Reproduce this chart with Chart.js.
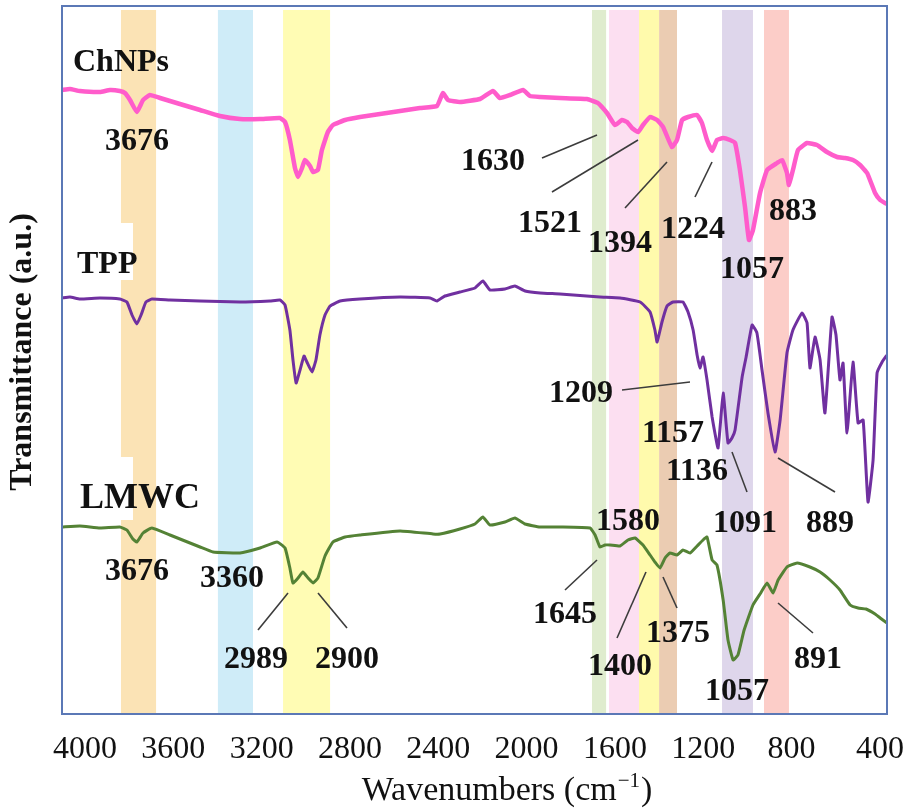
<!DOCTYPE html>
<html>
<head>
<meta charset="utf-8">
<script src="https://cdn.jsdelivr.net/npm/chart.js@4.4.0/dist/chart.umd.min.js"></script>
<style>
  body { margin: 0; background: #fff; }
  canvas { display: block; }
</style>
</head>
<body>
<canvas id="ftirChart" width="905" height="809"></canvas>
<script>
// ticks on the wavenumber axis
const xTicks = [4000, 3600, 3200, 2800, 2400, 2000, 1600, 1200, 800, 400];

// spectra (wavenumber / transmittance a.u., traces already offset)
const chnpsWn = [4104,4068,4023,3932,3887,3842,3819,3796,3765,3737,3706,3660,3570,3479,3389,3298,3207,3117,3094,3072,3049,3035,3017,3004,2981,2967,2945,2927,2900,2877,2822,2755,2664,2573,2483,2406,2379,2356,2302,2211,2152,2121,2075,2016,1985,1939,1849,1727,1677,1636,1600,1568,1545,1523,1495,1473,1441,1409,1382,1342,1319,1296,1269,1228,1206,1183,1160,1138,1110,1079,1056,1034,1011,993,975,943,911,866,843,821,812,794,771,730,685,640,594,558,522,490,458,422,399,377,368];
const chnpsT = [624,625,623,622,624,623,621,614,602,614,619,616,610,604,598,595,595,596,592,574,546,537,546,554,548,542,544,564,582,589,594,597,600,603,606,608,621,614,612,615,623,616,619,624,618,617,616,615,611,601,589,594,592,586,582,589,597,594,587,567,574,594,597,599,591,574,563,574,576,574,571,544,507,474,484,521,544,551,554,541,529,544,564,571,569,562,557,556,554,549,541,521,514,511,510];

const tppWn = [4104,4068,4023,3932,3842,3810,3787,3765,3746,3724,3697,3615,3479,3298,3162,3117,3094,3072,3058,3044,3026,3008,2995,2972,2954,2936,2913,2890,2845,2755,2573,2437,2406,2370,2302,2234,2198,2166,2098,2053,2007,1939,1849,1668,1577,1486,1441,1419,1409,1387,1364,1337,1292,1269,1246,1228,1215,1201,1183,1160,1133,1110,1088,1070,1056,1024,1006,979,957,934,907,875,852,821,794,753,730,717,694,671,649,617,599,581,567,549,522,499,476,454,431,413,390,368];
const tppT = [416,417,415,416,415,412,399,390,399,412,415,414,413,412,413,414,409,384,354,331,344,358,352,342,354,379,399,408,413,415,417,416,413,418,422,426,433,424,425,428,423,421,420,417,416,412,402,384,372,392,408,412,412,402,384,359,346,357,334,297,266,321,271,276,284,337,357,389,381,344,301,262,294,361,384,401,391,346,377,354,301,397,379,334,351,281,352,291,294,212,254,341,352,359];

const lmwcWn = [4104,4023,3932,3842,3810,3783,3765,3737,3697,3615,3479,3420,3298,3207,3130,3094,3072,3058,3035,3013,2990,2967,2945,2913,2877,2822,2755,2573,2424,2392,2302,2234,2198,2166,2098,2053,2007,1939,1849,1713,1690,1668,1645,1622,1577,1541,1509,1473,1441,1419,1396,1373,1351,1319,1292,1260,1228,1201,1183,1160,1138,1110,1088,1065,1043,1015,975,943,911,884,861,821,775,717,671,626,581,535,499,463,422,399,368];
const lmwcT = [187,188,186,187,184,175,172,181,186,179,167,162,161,166,172,166,146,131,136,142,136,131,136,158,172,177,179,183,180,180,185,190,197,189,192,196,190,187,187,186,179,167,169,169,168,174,176,169,159,152,146,156,161,159,164,161,168,174,177,154,149,114,74,54,59,84,109,120,131,121,134,147,151,147,142,134,124,109,106,105,100,96,91];

// shaded bands (cm-1)
const bandFrom = [3837, 3398, 3103, 1704, 1627, 1491, 1400, 1115, 925];
const bandTo = [3678, 3239, 2890, 1640, 1491, 1400, 1319, 975, 812];
const bandColors = ["#fbe3b5", "#cfecf8", "#fffcb4", "#dfecce", "#fcdff1", "#fffaac", "#ebccb2", "#ded6eb", "#fccdc8"];

const serif = "'Liberation Serif', 'DejaVu Serif', serif";

// peak labels: text, centre x, baseline y (canvas pixels)
const peakLabels = [
  ["3676", 137, 150], ["1630", 493, 170], ["1521", 550, 232], ["1394", 620, 252],
  ["1224", 693, 238], ["883", 793, 220], ["1057", 752, 278],
  ["1209", 581, 402], ["1157", 673, 442], ["1136", 697, 480], ["1091", 745, 532],
  ["889", 830, 532], ["1580", 628, 530],
  ["3676", 137, 580], ["3360", 232, 587], ["2989", 256, 668], ["2900", 347, 668],
  ["1645", 565, 623], ["1400", 620, 675], ["1375", 678, 642], ["1057", 737, 700], ["891", 818, 668]
];
const leaderLines = [
  [542, 158, 597, 135], [552, 192, 638, 140], [625, 208, 667, 162], [695, 197, 712, 162],
  [622, 390, 690, 382], [732, 452, 747, 492], [778, 458, 835, 492],
  [258, 630, 288, 593], [318, 593, 347, 628], [565, 590, 597, 560],
  [617, 638, 646, 572], [663, 577, 677, 608], [778, 603, 813, 633]
];
const seriesNames = [["ChNPs", 73, 71, 32], ["TPP", 77, 273, 32], ["LMWC", 80, 508, 36]];

function toPoints(wn, t) {
  return wn.map((w, i) => ({ x: w, y: t[i] }));
}

const decorations = {
  id: "decorations",
  beforeDatasetsDraw(chart) {
    const { ctx, chartArea: a, scales: { x } } = chart;
    ctx.save();
    bandFrom.forEach((f, i) => {
      const x1 = x.getPixelForValue(f);
      const x2 = x.getPixelForValue(bandTo[i]);
      ctx.fillStyle = bandColors[i];
      ctx.fillRect(x1, a.top + 4, x2 - x1, a.bottom - a.top - 5);
    });
    // white boxes left behind the sample names
    ctx.fillStyle = "#fff";
    ctx.fillRect(70, 223, 63, 57);
    ctx.fillRect(70, 457, 63, 63);
    ctx.restore();
  },
  afterDatasetsDraw(chart) {
    const { ctx, chartArea: a } = chart;
    ctx.save();
    ctx.strokeStyle = "#3c3c3c";
    ctx.lineWidth = 1.6;
    leaderLines.forEach(([x1, y1, x2, y2]) => {
      ctx.beginPath();
      ctx.moveTo(x1, y1);
      ctx.lineTo(x2, y2);
      ctx.stroke();
    });
    ctx.fillStyle = "#111";
    ctx.textBaseline = "alphabetic";
    ctx.textAlign = "center";
    ctx.font = "bold 32px " + serif;
    peakLabels.forEach(([t, px, py]) => ctx.fillText(t, px, py));
    ctx.textAlign = "left";
    seriesNames.forEach(([t, px, py, size]) => {
      ctx.font = "bold " + size + "px " + serif;
      ctx.fillText(t, px, py);
    });
    // plot frame
    ctx.strokeStyle = "#5b78b6";
    ctx.lineWidth = 2;
    ctx.strokeRect(a.left, a.top, a.right - a.left, a.bottom - a.top);
    ctx.restore();
  },
  afterDraw(chart) {
    const { ctx } = chart;
    ctx.save();
    ctx.fillStyle = "#111";
    // y title
    ctx.translate(23, 352);
    ctx.rotate(-Math.PI / 2);
    ctx.font = "bold 32px " + serif;
    ctx.textAlign = "center";
    ctx.textBaseline = "middle";
    ctx.fillText("Transmittance (a.u.)", 0, 0);
    ctx.restore();

    // x title with superscript
    ctx.save();
    ctx.fillStyle = "#111";
    ctx.textBaseline = "alphabetic";
    ctx.textAlign = "left";
    const main = "Wavenumbers (cm", sup = "\u22121", close = ")";
    ctx.font = "34px " + serif;
    const w1 = ctx.measureText(main).width, w3 = ctx.measureText(close).width;
    ctx.font = "21px " + serif;
    const w2 = ctx.measureText(sup).width;
    let sx = 506 - (w1 + w2 + w3) / 2;
    const base = 800;
    ctx.font = "34px " + serif;
    ctx.fillText(main, sx, base);
    ctx.font = "21px " + serif;
    ctx.fillText(sup, sx + w1 + 1, base - 13);
    ctx.font = "34px " + serif;
    ctx.fillText(close, sx + w1 + w2 + 2, base);
    ctx.restore();
  }
};

new Chart(document.getElementById("ftirChart"), {
  type: "line",
  data: {
    datasets: [
      { label: "ChNPs", data: toPoints(chnpsWn, chnpsT), borderColor: "#ff5ccb", borderWidth: 4.5 },
      { label: "TPP", data: toPoints(tppWn, tppT), borderColor: "#7030a0", borderWidth: 3 },
      { label: "LMWC", data: toPoints(lmwcWn, lmwcT), borderColor: "#548235", borderWidth: 3 }
    ]
  },
  options: {
    responsive: false,
    animation: false,
    devicePixelRatio: 1,
    elements: { point: { radius: 0 }, line: { tension: 0.12 } },
    layout: { padding: { left: 62, right: 18, top: 6, bottom: 0 } },
    plugins: { legend: { display: false }, tooltip: { enabled: false } },
    scales: {
      x: {
        type: "linear",
        reverse: true,
        min: 368,
        max: 4104,
        grid: { display: false, drawTicks: false },
        border: { display: false },
        ticks: {
          font: { family: serif, size: 32 },
          color: "#111",
          padding: 16,
          maxRotation: 0,
          autoSkip: false,
          callback: (v) => String(v)
        },
        afterBuildTicks: (s) => { s.ticks = xTicks.map((v) => ({ value: v })); },
        afterFit: (s) => { s.height = 95; s.paddingLeft = 0; s.paddingRight = 0; }
      },
      y: { display: false, min: 0, max: 708 }
    }
  },
  plugins: [decorations]
});
</script>
</body>
</html>
